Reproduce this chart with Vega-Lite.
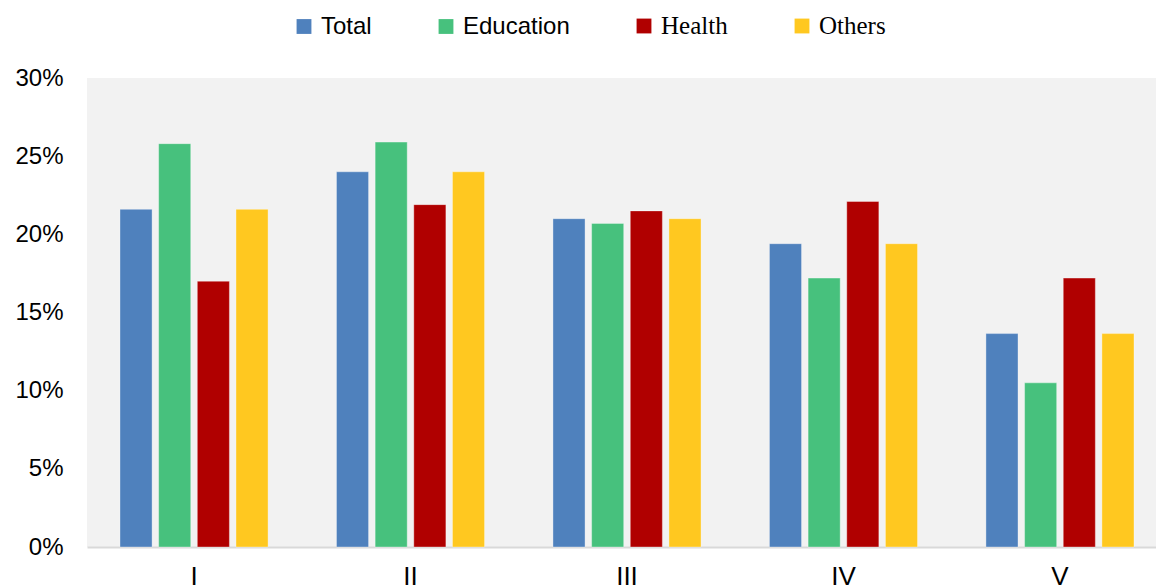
{
  "$schema": "https://vega.github.io/schema/vega-lite/v6.json",
  "autosize": {"type": "none"},
  "width": 1069,
  "height": 469,
  "padding": {"left": 87, "top": 78, "right": 0, "bottom": 38},
  "background": "white",
  "config": {
    "view": {"fill": "#F2F2F2", "stroke": null},
    "font": "Liberation Sans"
  },
  "data": {
    "values": [
      {"group": "I", "series": "Total", "value": 0.216},
      {"group": "I", "series": "Education", "value": 0.258},
      {"group": "I", "series": "Health", "value": 0.170},
      {"group": "I", "series": "Others", "value": 0.216},
      {"group": "II", "series": "Total", "value": 0.240},
      {"group": "II", "series": "Education", "value": 0.259},
      {"group": "II", "series": "Health", "value": 0.219},
      {"group": "II", "series": "Others", "value": 0.240},
      {"group": "III", "series": "Total", "value": 0.210},
      {"group": "III", "series": "Education", "value": 0.207},
      {"group": "III", "series": "Health", "value": 0.215},
      {"group": "III", "series": "Others", "value": 0.210},
      {"group": "IV", "series": "Total", "value": 0.194},
      {"group": "IV", "series": "Education", "value": 0.172},
      {"group": "IV", "series": "Health", "value": 0.221},
      {"group": "IV", "series": "Others", "value": 0.194},
      {"group": "V", "series": "Total", "value": 0.1365},
      {"group": "V", "series": "Education", "value": 0.105},
      {"group": "V", "series": "Health", "value": 0.172},
      {"group": "V", "series": "Others", "value": 0.1365}
    ]
  },
  "layer": [
    {
      "mark": {"type": "bar", "stroke": "white", "strokeOpacity": 0.35, "strokeWidth": 1},
      "encoding": {
        "x": {
          "field": "group",
          "type": "nominal",
          "sort": ["I", "II", "III", "IV", "V"],
          "scale": {"paddingInner": 0.316, "paddingOuter": 0.127, "align": 0.6},
          "axis": {
            "title": null,
            "labelAngle": 0,
            "labelFontSize": 26,
            "labelColor": "#000000",
            "labelPadding": 16,
            "ticks": false,
            "domain": true,
            "domainColor": "#D9D9D9",
            "domainWidth": 2
          }
        },
        "xOffset": {
          "field": "series",
          "type": "nominal",
          "sort": ["Total", "Education", "Health", "Others"],
          "scale": {"paddingInner": 0.17, "paddingOuter": 0}
        },
        "y": {
          "field": "value",
          "type": "quantitative",
          "scale": {"domain": [0, 0.3], "nice": false},
          "axis": {
            "title": null,
            "format": ".0%",
            "values": [0, 0.05, 0.1, 0.15, 0.2, 0.25, 0.3],
            "grid": false,
            "ticks": false,
            "domain": false,
            "labelFontSize": 24,
            "labelColor": "#000000",
            "labelPadding": 24
          }
        },
        "color": {
          "field": "series",
          "type": "nominal",
          "sort": ["Total", "Education", "Health", "Others"],
          "scale": {
            "domain": ["Total", "Education", "Health", "Others"],
            "range": ["#4F81BD", "#47C17D", "#B00000", "#FFC820"]
          },
          "legend": {
            "title": null,
            "orient": "none",
            "direction": "horizontal",
            "legendX": 205,
            "legendY": -64,
            "symbolType": "square",
            "symbolSize": 220,
            "symbolStrokeWidth": 0,
            "symbolOpacity": 1,
            "labelColor": "#000000",
            "labelOffset": 5,
            "columnPadding": 62,
            "labelFont": {"expr": "datum.value === 'Health' || datum.value === 'Others' ? 'Liberation Serif' : 'Liberation Sans'"},
            "labelFontSize": {"expr": "datum.value === 'Health' || datum.value === 'Others' ? 25 : 24"}
          }
        }
      }
    }
  ]
}
